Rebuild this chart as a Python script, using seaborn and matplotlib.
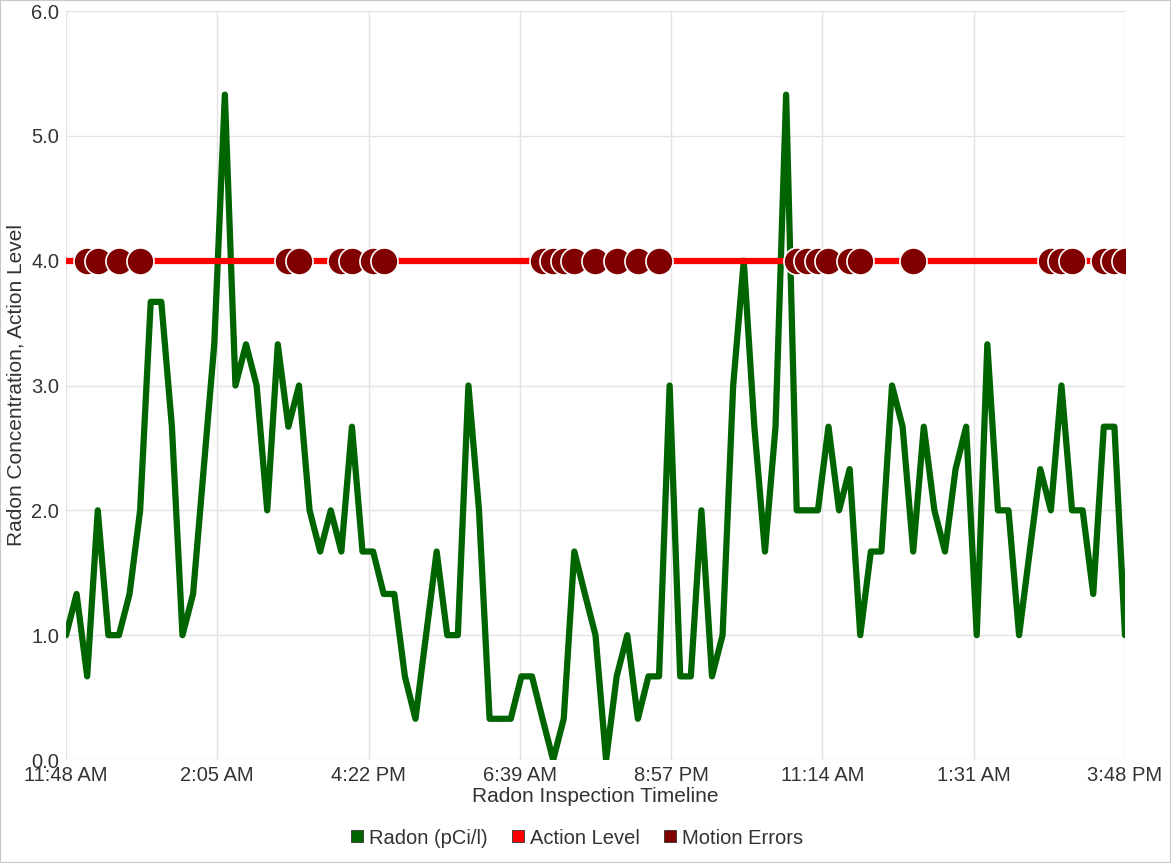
import matplotlib
matplotlib.use("Agg")
import matplotlib.pyplot as plt
from matplotlib.lines import Line2D
from matplotlib.patches import Rectangle
import seaborn as sns
import pandas as pd

# hourly readings, starting 11:48 AM
radon = [1.0, 1.33, 0.67, 2.0, 1.0, 1.0, 1.33, 2.0, 3.67, 3.67,
         2.67, 1.0, 1.33, 2.33, 3.33, 5.33, 3.0, 3.33, 3.0, 2.0,
         3.33, 2.67, 3.0, 2.0, 1.67, 2.0, 1.67, 2.67, 1.67, 1.67,
         1.33, 1.33, 0.67, 0.33, 1.0, 1.67, 1.0, 1.0, 3.0, 2.0,
         0.33, 0.33, 0.33, 0.67, 0.67, 0.33, 0.0, 0.33, 1.67, 1.33,
         1.0, 0.0, 0.67, 1.0, 0.33, 0.67, 0.67, 3.0, 0.67, 0.67,
         2.0, 0.67, 1.0, 3.0, 4.0, 2.67, 1.67, 2.67, 5.33, 2.0,
         2.0, 2.0, 2.67, 2.0, 2.33, 1.0, 1.67, 1.67, 3.0, 2.67,
         1.67, 2.67, 2.0, 1.67, 2.33, 2.67, 1.0, 3.33, 2.0, 2.0,
         1.0, 1.67, 2.33, 2.0, 3.0, 2.0, 2.0, 1.33, 2.67, 2.67,
         1.0]
hours = list(range(len(radon)))

action_level = 4.0

# hours (from start) where a motion error was logged
motion_hours = [2, 3, 5, 7, 21, 22, 26, 27, 29, 30,
                45, 46, 47, 48, 50, 52, 54, 56,
                69, 70, 71, 72, 74, 75, 80, 93, 94, 95, 98, 99, 100]

tick_hours = [0, 100 / 7, 200 / 7, 300 / 7, 400 / 7, 500 / 7, 600 / 7, 100]
tick_labels = ["11:48 AM", "2:05 AM", "4:22 PM", "6:39 AM",
               "8:57 PM", "11:14 AM", "1:31 AM", "3:48 PM"]
y_ticks = [0, 1, 2, 3, 4, 5, 6]

df = pd.DataFrame({"hour": hours, "radon": radon})
df["action"] = action_level
err = pd.DataFrame({"hour": motion_hours, "level": action_level})

sns.set_theme(style="white")
plt.rcParams["font.family"] = ["Liberation Sans", "DejaVu Sans"]
txt = "#333333"

fig = plt.figure(figsize=(11.71, 8.63), dpi=100)
ax = fig.add_axes([66 / 1171, 1 - 760 / 863, (1125 - 66) / 1171, (760 - 11) / 863])

sns.lineplot(data=df, x="hour", y="radon", ax=ax, color="#006400",
             linewidth=4.5, zorder=2, legend=False)
sns.lineplot(data=df, x="hour", y="action", ax=ax, color="#ff0000",
             linewidth=4.5, zorder=3, legend=False)
sns.scatterplot(data=err, x="hour", y="level", ax=ax, color="#800000",
                s=380, edgecolor="white", linewidth=1.2, zorder=4, legend=False)

ax.set_xlim(0, 100)
ax.set_ylim(0, 6)
ax.set_xticks(tick_hours)
ax.set_xticklabels(tick_labels)
ax.set_yticks(y_ticks)
ax.set_yticklabels([f"{v:.1f}" for v in y_ticks])
ax.grid(True, color="#e3e3e3", linewidth=1)
ax.set_axisbelow(True)
for s in ax.spines.values():
    s.set_visible(False)
ax.tick_params(axis="both", length=0, labelsize=14.5, colors=txt)
ax.tick_params(axis="x", pad=4)
ax.tick_params(axis="y", pad=5)

ax.set_xlabel("Radon Inspection Timeline", fontsize=15, color=txt, labelpad=2)
ax.set_ylabel("Radon Concentration, Action Level", fontsize=15, color=txt, labelpad=4)

handles = [
    Line2D([], [], marker="s", linestyle="none", markersize=9,
           markerfacecolor="#006400", markeredgecolor="#333333", markeredgewidth=0.6),
    Line2D([], [], marker="s", linestyle="none", markersize=9,
           markerfacecolor="#ff0000", markeredgecolor="#333333", markeredgewidth=0.6),
    Line2D([], [], marker="s", linestyle="none", markersize=9,
           markerfacecolor="#800000", markeredgecolor="#333333", markeredgewidth=0.6),
]
fig.legend(handles, ["Radon (pCi/l)", "Action Level", "Motion Errors"],
           loc="center", bbox_to_anchor=(575 / 1171, 1 - 838 / 863), ncol=3,
           frameon=False, fontsize=14.5, handletextpad=0.1, columnspacing=1.0,
           labelcolor=txt, handlelength=1.0)

fig.patches.append(Rectangle((0, 0), 1, 1, transform=fig.transFigure,
                             fill=False, edgecolor="#c8c8c8", linewidth=1.5))

fig.savefig("out.png", dpi=100)
